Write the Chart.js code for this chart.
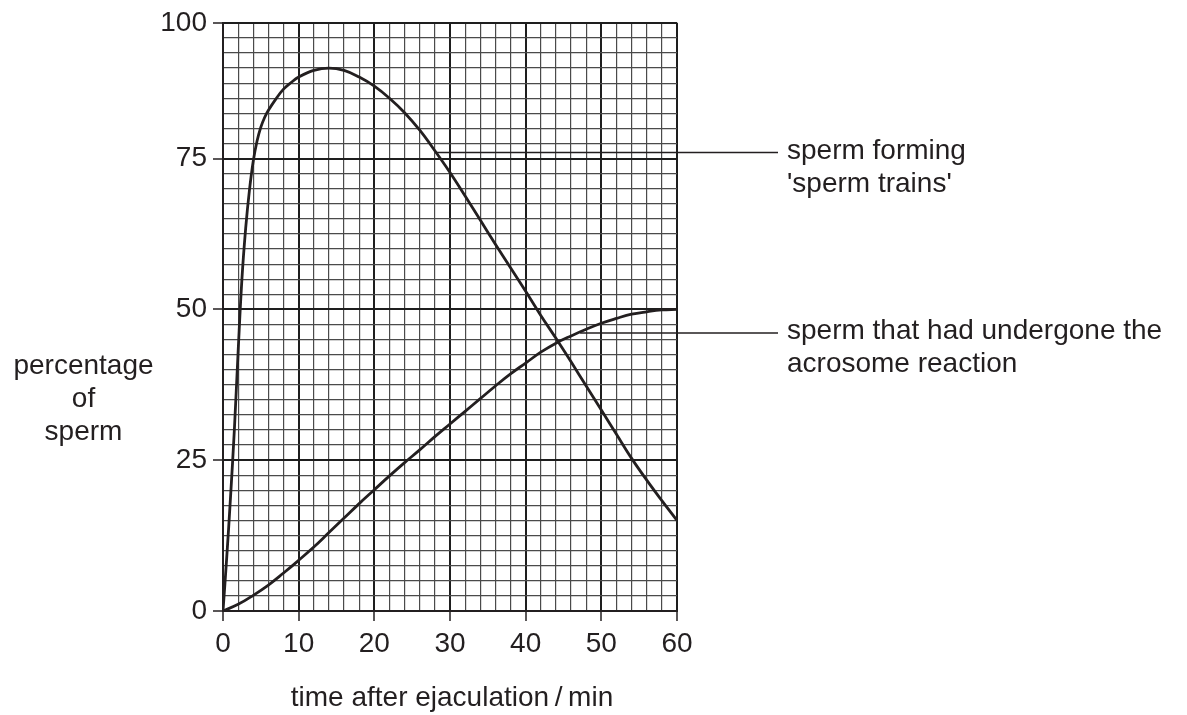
<!DOCTYPE html>
<html><head><meta charset="utf-8">
<script src="https://cdn.jsdelivr.net/npm/chart.js@4/dist/chart.umd.min.js"></script>
<style>html,body{margin:0;padding:0;background:#fff}</style>
</head><body>
<canvas id="c" width="1187" height="715"></canvas>
<script>
// ---- data ----
const trainsTime = [0,0.5,1,1.5,2,2.5,3,3.5,4,4.5,5,5.5,6,7,8,9,10,12,14,16,18,20,22,24,26,28,30,32,34,36,38,40,42,44,46,48,50,52,54,56,58,60];
const trainsPct  = [0,9,19,30,43,55,63.5,69.8,74.6,77.9,80.2,81.8,83,84.9,86.5,87.6,88.5,89.6,90,89.6,88.5,87,85,82.6,79.7,76.3,72.7,68.8,64.8,60.8,56.9,53,49,45.2,41.3,37.3,33.3,29.3,25.3,21.7,18.3,15];
const acroTime = [0,2,4,6,8,10,12,14,16,18,20,22,24,26,28,30,32,34,36,38,40,42,44,46,48,50,52,54,56,58,60];
const acroPct  = [0,1.1,2.6,4.3,6.3,8.4,10.6,13,15.4,17.8,20.1,22.4,24.6,26.7,28.9,31,33.1,35.2,37.3,39.3,41.1,42.9,44.4,45.6,46.7,47.7,48.5,49.2,49.6,49.9,50];
const xTickValues = [0,10,20,30,40,50,60];
const yTickValues = [0,25,50,75,97.5];
const yTickLabels = ['0','25','50','75','100'];
const seriesLabels = [["sperm forming","'sperm trains'"],["sperm that had undergone the","acrosome reaction"]];
const labelAnchors = [[28,76],[47.2,46.1]];
const xTitle = "time after ejaculation\u2009/\u2009min";
const yTitle = ["percentage","of","sperm"];

const FONT = "'Liberation Sans', Arial, Helvetica, sans-serif";
const INK = '#231f20';

const toXY = (xs, ys) => xs.map((x, i) => ({x, y: ys[i]}));

const isMajorX = v => xTickValues.includes(v);
const isMajorY = v => yTickValues.includes(v);

const textPlugin = {
  id: 'texts',
  afterDraw(chart) {
    const {ctx, scales: {x, y}, chartArea} = chart;
    ctx.save();
    ctx.fillStyle = INK;
    ctx.font = `28px ${FONT}`;
    ctx.textBaseline = 'alphabetic';
    ctx.textAlign = 'center';
    yTitle.forEach((t, i) => ctx.fillText(t, 83.5, 374 + i * 33));
    ctx.fillText(xTitle, (chartArea.left + chartArea.right) / 2 + 2, 706);
    ctx.textAlign = 'left';
    ctx.strokeStyle = INK;
    ctx.lineWidth = 1.5;
    labelAnchors.forEach((a, i) => {
      const px = x.getPixelForValue(a[0]);
      const py = y.getPixelForValue(a[1]);
      ctx.beginPath();
      ctx.moveTo(px, py);
      ctx.lineTo(778, py);
      ctx.stroke();
      seriesLabels[i].forEach((t, j) => ctx.fillText(t, 787, py + 6 + j * 33));
    });
    ctx.restore();
  }
};

const lineStyle = {borderColor: INK, backgroundColor: INK, borderWidth: 2.8, pointRadius: 0, fill: false, tension: 0.4};

new Chart(document.getElementById('c'), {
  type: 'line',
  data: {
    datasets: [
      Object.assign({label: seriesLabels[0].join(' '), data: toXY(trainsTime, trainsPct)}, lineStyle),
      Object.assign({label: seriesLabels[1].join(' '), data: toXY(acroTime, acroPct)}, lineStyle)
    ]
  },
  options: {
    responsive: false,
    animation: false,
    devicePixelRatio: 1,
    layout: {padding: {top: 21, right: 510, left: 0, bottom: 0}},
    plugins: {legend: {display: false}, tooltip: {enabled: false}, colors: {enabled: false}},
    scales: {
      x: {
        type: 'linear', min: 0, max: 60,
        afterFit: s => { s.height = 104; },
        ticks: {
          stepSize: 2, autoSkip: false, maxRotation: 0, padding: 6,
          color: INK, font: {family: FONT, size: 28},
          callback: v => isMajorX(v) ? String(v) : ''
        },
        grid: {
          color: c => isMajorX(c.tick.value) ? '#1e1e1e' : '#4a4a4a',
          lineWidth: c => isMajorX(c.tick.value) ? 2 : 1.2,
          tickLength: 10, tickWidth: 1.5,
          tickColor: c => isMajorX(c.tick.value) ? INK : 'rgba(0,0,0,0)'
        },
        border: {color: INK, width: 2}
      },
      y: {
        type: 'linear', min: 0, max: 97.5,
        afterFit: s => { s.width = 223; },
        ticks: {
          stepSize: 2.5, autoSkip: false, padding: 6,
          color: INK, font: {family: FONT, size: 28},
          callback: v => { const i = yTickValues.indexOf(v); return i >= 0 ? yTickLabels[i] : ''; }
        },
        grid: {
          color: c => isMajorY(c.tick.value) ? '#1e1e1e' : '#4a4a4a',
          lineWidth: c => isMajorY(c.tick.value) ? 2 : 1.2,
          tickLength: 10, tickWidth: 1.5,
          tickColor: c => isMajorY(c.tick.value) ? INK : 'rgba(0,0,0,0)'
        },
        border: {color: INK, width: 2}
      }
    }
  },
  plugins: [textPlugin]
});
</script>
</body></html>
